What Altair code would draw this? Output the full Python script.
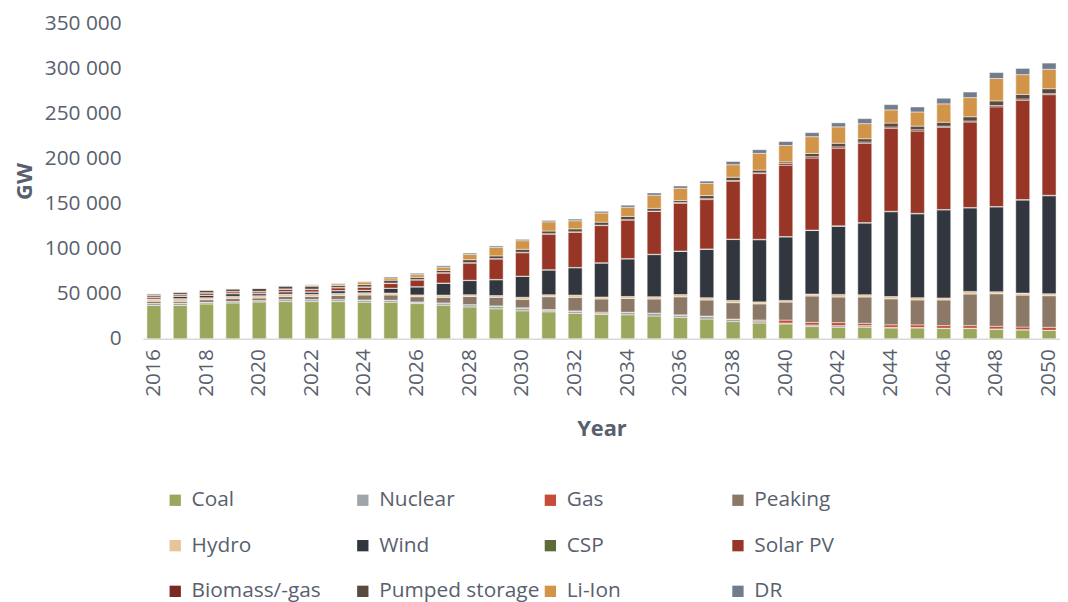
import altair as alt
import pandas as pd

years = [2016, 2017, 2018, 2019, 2020, 2021, 2022, 2023, 2024, 2025,
         2026, 2027, 2028, 2029, 2030, 2031, 2032, 2033, 2034, 2035,
         2036, 2037, 2038, 2039, 2040, 2041, 2042, 2043, 2044, 2045,
         2046, 2047, 2048, 2049, 2050]
tick_years = [2016, 2018, 2020, 2022, 2024, 2026, 2028, 2030, 2032, 2034,
              2036, 2038, 2040, 2042, 2044, 2046, 2048, 2050]

coal = [36900, 36900, 38600, 39700, 40800, 41200, 41200, 41200, 40500, 40500,
        39000, 37200, 35300, 33200, 31000, 29900, 28100, 27000, 26600, 25200,
        23700, 21900, 19000, 17500, 16400, 13500, 12800, 12800, 12000, 12000,
        11300, 11300, 10600, 9800, 9100]
nuclear = [2200, 2500, 1800, 1500, 1500, 2200, 2200, 2200, 2500, 2200,
           1800, 2500, 2500, 3000, 3000, 1800, 2500, 1500, 2500, 2900,
           2500, 2900, 2500, 2300, 1000, 1800, 1800, 1800, 600, 500,
           400, 400, 300, 300, 300]
gas = [0, 0, 0, 0, 0, 0, 0, 0, 0, 0,
       0, 0, 0, 200, 300, 700, 300, 1000, 300, 300,
       300, 300, 300, 1000, 3300, 2900, 3300, 2500, 2900, 2900,
       2900, 2900, 2900, 2900, 3300]
peaking = [2500, 2200, 2900, 3600, 2900, 3600, 3600, 4700, 5500, 5800,
           5800, 6200, 9000, 9500, 9500, 14200, 15000, 14600, 15300, 15700,
           20000, 17900, 18200, 17900, 20000, 29200, 28400, 29200, 28800, 27700,
           28400, 35000, 36100, 35400, 35000]
hydro = [2500, 2900, 2200, 2200, 2500, 2500, 2200, 2200, 2500, 2200,
         2000, 2500, 2000, 2000, 2200, 2200, 2500, 2200, 2200, 2500,
         2500, 2500, 2500, 2200, 1800, 2200, 2900, 2500, 2500, 2500,
         2200, 2900, 2200, 2200, 2200]
wind = [1500, 2500, 2500, 2900, 2200, 2500, 2500, 2900, 2500, 5100,
        8800, 13000, 15700, 17500, 23000, 27400, 30300, 37600, 41600, 46700,
        47800, 53600, 67500, 68900, 70400, 70400, 75500, 79500, 94100, 93000,
        97700, 92600, 94100, 103200, 108700]
csp = [300, 300, 300, 300, 300, 300, 300, 300, 300, 300,
       400, 400, 400, 400, 400, 400, 400, 400, 400, 400,
       500, 500, 500, 500, 500, 500, 500, 500, 500, 500,
       500, 500, 500, 500, 500]
solar_pv = [1800, 1500, 2200, 1800, 1800, 2500, 2500, 2900, 3300, 5100,
            7300, 11000, 19000, 22600, 26000, 39400, 39000, 41200, 42700, 47400,
            52900, 54700, 64200, 72900, 79100, 79900, 86100, 87900, 91900, 91200,
            91200, 94800, 110500, 110100, 111600]
biomass = [300, 500, 600, 500, 500, 500, 500, 500, 500, 500,
           500, 500, 500, 500, 500, 500, 500, 500, 500, 500,
           1000, 1000, 800, 800, 1800, 1500, 1500, 1500, 1500, 1500,
           1100, 1100, 1500, 1500, 1100]
pumped = [1800, 2500, 2900, 2900, 3600, 3300, 3300, 2200, 2500, 3300,
          2500, 2500, 3300, 3000, 3300, 3000, 3300, 3300, 3600, 3000,
          2200, 3500, 3600, 3000, 1800, 3600, 4000, 3600, 4400, 4000,
          4400, 4700, 5100, 5100, 5500]
li_ion = [0, 0, 0, 0, 0, 0, 1000, 1800, 2900, 2500,
          3000, 3600, 5800, 9500, 9500, 10200, 9000, 10200, 10200, 14600,
          13500, 13500, 13900, 18600, 18200, 18600, 18200, 16800, 14600, 15700,
          20400, 21200, 24800, 21900, 21500]
dr = [0, 0, 0, 0, 0, 0, 500, 500, 500, 1100,
      1500, 1500, 1500, 1500, 1500, 1500, 1800, 1800, 2200, 2500,
      2500, 2500, 3600, 4000, 4400, 4400, 4400, 5500, 5800, 5500,
      6200, 6200, 6600, 6900, 6900]

series_names = ["Coal", "Nuclear", "Gas", "Peaking", "Hydro", "Wind", "CSP",
                "Solar PV", "Biomass/-gas", "Pumped storage", "Li-Ion", "DR"]
series_values = [coal, nuclear, gas, peaking, hydro, wind, csp, solar_pv,
                 biomass, pumped, li_ion, dr]
colors = ["#9CA75E", "#9EA6AA", "#C84B37", "#8B7866", "#E6C498", "#32363F",
          "#5E6B36", "#973626", "#7A2A20", "#574A3E", "#D29449", "#717C8C"]
y_ticks = [0, 50000, 100000, 150000, 200000, 250000, 300000, 350000]

rows = []
for i, (name, vals) in enumerate(zip(series_names, series_values)):
    for yr, v in zip(years, vals):
        rows.append({"Year": yr, "Tech": name, "GW": v, "idx": i})
df = pd.DataFrame(rows)

text_color = "#595F6E"
font = "Open Sans"

chart = alt.Chart(df).mark_bar(stroke="white", strokeWidth=0.6, strokeOpacity=0.8).encode(
    x=alt.X("Year:O",
            scale=alt.Scale(paddingInner=0.47, paddingOuter=0.15),
            axis=alt.Axis(values=tick_years, labelAngle=-90, ticks=False,
                          domainColor="#D9D9D9", domainWidth=1.5,
                          labelFontSize=21, labelColor=text_color, labelFont=font,
                          labelPadding=10,
                          title="Year", titleFontSize=22, titleFontWeight="bold",
                          titleColor=text_color, titleFont=font, titlePadding=22)),
    y=alt.Y("GW:Q", stack="zero",
            scale=alt.Scale(domain=[0, 350000], nice=False),
            axis=alt.Axis(values=y_ticks, grid=False, domain=False, ticks=False,
                          labelExpr="datum.value == 0 ? '0' : floor(datum.value / 1000) + ' 000'",
                          labelFontSize=21, labelColor=text_color, labelFont=font,
                          labelPadding=22,
                          title="GW", titleFontSize=22, titleFontWeight="bold",
                          titleColor=text_color, titleFont=font, titlePadding=8)),
    color=alt.Color("Tech:N",
                    scale=alt.Scale(domain=series_names, range=colors),
                    legend=alt.Legend(orient="none", legendX=22, legendY=470,
                                      direction="horizontal",
                                      columns=4, gridAlign="all", columnPadding=0,
                                      rowPadding=24, symbolType="square",
                                      symbolSize=130, symbolStrokeWidth=0,
                                      labelFontSize=21, labelColor=text_color,
                                      labelFont=font, labelOffset=6,
                                      labelLimit=300,
                                      title=None, padding=0)),
    order=alt.Order("idx:Q", sort="ascending"),
).properties(
    width=924, height=318,
    autosize=alt.AutoSizeParams(type="none"),
    padding={"left": 136, "top": 13, "right": 0, "bottom": 263},
).configure_view(stroke=None)

chart.save("out.html", embed_options={"renderer": "svg", "actions": False})
